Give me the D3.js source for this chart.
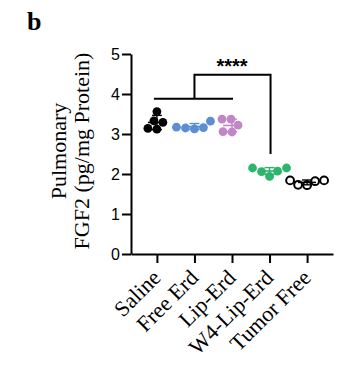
<!DOCTYPE html>
<html><head><meta charset="utf-8">
<script src="https://cdn.jsdelivr.net/npm/d3@7"></script>
<style>html,body{margin:0;padding:0;background:#fff;}svg{display:block;}</style>
</head><body>
<svg id="chart" width="340" height="365"></svg>
<script>
const categories = ["Saline", "Free Erd", "Lip-Erd", "W4-Lip-Erd", "Tumor Free"];
const saline = [3.56, 3.33, 3.29, 3.12, 3.14];
const freeErd = [3.32, 3.15, 3.17, 3.16, 3.13];
const lipErd = [3.37, 3.37, 3.22, 3.05, 3.06];
const w4LipErd = [2.07, 2.15, 2.15, 2.06, 1.94];
const tumorFree = [1.82, 1.84, 1.84, 1.73, 1.72];
const seriesValues = [saline, freeErd, lipErd, w4LipErd, tumorFree];
const yTicks = [0, 1, 2, 3, 4, 5];
const yLabelLines = ["Pulmonary", "FGF2 (pg/mg Protein)"];
const panelLabel = "b";
const sigLabel = "****";
// bracket levels (data units)
const bracketLow = 3.88, bracketHigh = 4.48, bracketDrop = 2.5;

const colors = ["#000000", "#5b8fd2", "#c286c8", "#2cb56c", "#000000"];
const hollow = [false, false, false, false, true];

const svg = d3.select("#chart");
const x = d3.scalePoint().domain(categories).range([131, 333]).padding(0.69);
const y = d3.scaleLinear().domain([0, 5]).range([254, 54]);

// axes
const yAxis = svg.append("g").attr("transform", "translate(131,0)")
  .call(d3.axisLeft(y).tickValues(yTicks).tickSize(9).tickSizeOuter(0).tickPadding(2).tickFormat(d3.format("d")));
const xAxis = svg.append("g").attr("transform", "translate(0,254)")
  .call(d3.axisBottom(x).tickSize(9).tickSizeOuter(0).tickFormat(""));
[yAxis, xAxis].forEach(g => {
  g.selectAll("path.domain").attr("stroke", "#000").attr("stroke-width", 2);
  g.selectAll(".tick line").attr("stroke", "#000").attr("stroke-width", 2);
});
yAxis.selectAll("text").attr("font-family", "Liberation Sans, Arial, sans-serif").attr("font-size", 16).attr("fill", "#000");

// category labels
svg.append("g").selectAll("text").data(categories).join("text")
  .attr("transform", d => `translate(${x(d) + 5},279) rotate(-45)`)
  .attr("text-anchor", "end")
  .attr("font-family", "Liberation Serif, Times New Roman, serif")
  .attr("font-size", 22)
  .text(d => d);

// y label
const yl = svg.append("text")
  .attr("transform", "translate(0,151) rotate(-90)")
  .attr("text-anchor", "middle")
  .attr("font-family", "Liberation Serif, Times New Roman, serif")
  .attr("font-size", 22);
yl.append("tspan").attr("x", 0).attr("y", 66).text(yLabelLines[0]);
yl.append("tspan").attr("x", 0).attr("y", 89).text(yLabelLines[1]);

// panel label
svg.append("text").attr("x", 27).attr("y", 30)
  .attr("font-family", "Liberation Serif, Times New Roman, serif")
  .attr("font-weight", "bold").attr("font-size", 26).text(panelLabel);

// swarm layout
const r = 4.4;
function swarm(vals, cx) {
  const idx = vals.map((v, i) => i).sort((a, b) => vals[a] - vals[b]);
  const placed = [];
  const out = new Array(vals.length);
  idx.forEach(i => {
    const py = y(vals[i]);
    let chosen = 0;
    for (let k = 0; k < 60; k++) {
      const cands = k === 0 ? [0] : [-k, k];
      let ok = null;
      for (const o of cands) {
        if (placed.every(p => Math.hypot(p.x - (cx + o), p.y - py) >= 2 * r)) { ok = o; break; }
      }
      if (ok !== null) { chosen = ok; break; }
    }
    const pt = { x: cx + chosen, y: py };
    placed.push(pt);
    out[i] = pt;
  });
  return out;
}

const groups = svg.append("g");
categories.forEach((c, ci) => {
  const vals = seriesValues[ci];
  const cx = x(c);
  const pts = swarm(vals, cx);
  const g = groups.append("g");
  g.selectAll("circle").data(pts).join("circle")
    .attr("cx", d => d.x).attr("cy", d => d.y).attr("r", hollow[ci] ? 3.9 : r)
    .attr("fill", hollow[ci] ? "#fff" : colors[ci])
    .attr("stroke", colors[ci]).attr("stroke-width", hollow[ci] ? 2 : 0);
  const m = d3.mean(vals), sd = d3.deviation(vals);
  const col = colors[ci];
  g.append("line").attr("x1", cx - 9).attr("x2", cx + 9).attr("y1", y(m)).attr("y2", y(m)).attr("stroke", col).attr("stroke-width", 1.6);
  g.append("line").attr("x1", cx).attr("x2", cx).attr("y1", y(m - sd)).attr("y2", y(m + sd)).attr("stroke", col).attr("stroke-width", 1.4);
  [m - sd, m + sd].forEach(v => g.append("line").attr("x1", cx - 5).attr("x2", cx + 5).attr("y1", y(v)).attr("y2", y(v)).attr("stroke", col).attr("stroke-width", 1.4));
});

// significance bracket
const xa = x(categories[0]), xc = x(categories[2]), xb = x(categories[1]), xd = x(categories[3]);
svg.append("path")
  .attr("d", `M${xa - 3},${y(bracketLow)}H${xc + 1}M${xb},${y(bracketLow)}V${y(bracketHigh)}H${xd + 1}V${y(bracketDrop)}`)
  .attr("fill", "none").attr("stroke", "#000").attr("stroke-width", 2);
svg.append("text").attr("x", (xb + xd) / 2).attr("y", y(bracketHigh) - 2)
  .attr("text-anchor", "middle").attr("font-family", "Liberation Sans, Arial, sans-serif")
  .attr("font-weight", "bold").attr("font-size", 20).text(sigLabel);
</script>
</body></html>
